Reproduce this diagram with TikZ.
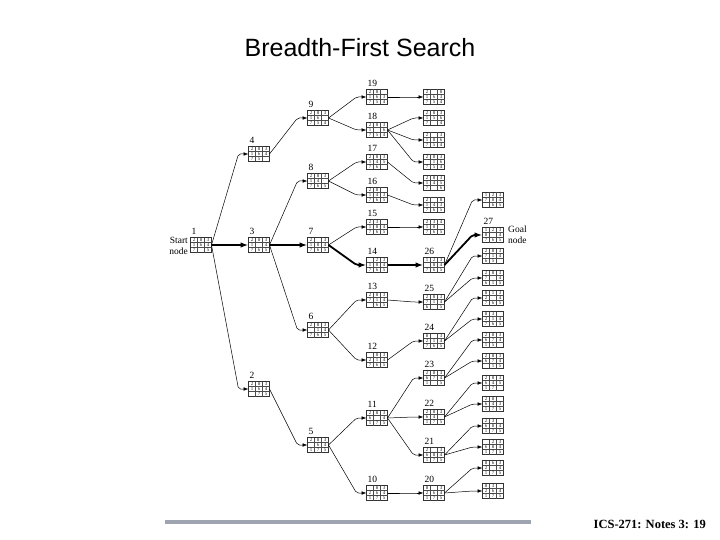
\documentclass[tikz,border=0pt]{standalone}
\usepackage{fontspec}
\setmainfont{Liberation Serif}
\newfontfamily\titlefont{Liberation Sans}
\usetikzlibrary{arrows.meta}
\definecolor{barc}{RGB}{158,164,176}
\tikzset{
  pbox/.style={draw=black!80, line width=0.55pt, minimum width=21pt, minimum height=15pt, inner sep=0pt, outer sep=0pt},
  pgrid/.style={draw=black!70, line width=0.35pt},
  dig/.style={font=\fontsize{4.9}{5}\selectfont, inner sep=0pt, text=black!90},
  lbl/.style={font=\fontsize{9.5}{10}\selectfont, inner sep=0pt, anchor=base west},
  txt/.style={font=\fontsize{9.5}{11}\selectfont, inner sep=0pt},
  arr/.style={-{Latex[length=5pt,width=3.6pt]}, line width=0.5pt, rounded corners=2pt},
  tarr/.style={-{Latex[length=8pt,width=5.5pt]}, line width=1.8pt, rounded corners=2pt},
}
\newcommand\pz[5]{%
  \node[pbox] (#1) at (#2,#3) {};
  \draw[pgrid] ([xshift=-3.5pt]#1.north) -- ([xshift=-3.5pt]#1.south)
               ([xshift=3.5pt]#1.north) -- ([xshift=3.5pt]#1.south)
               ([yshift=2.5pt]#1.west) -- ([yshift=2.5pt]#1.east)
               ([yshift=-2.5pt]#1.west) -- ([yshift=-2.5pt]#1.east);
  \foreach \d [count=\k from 0] in {#4}{%
    \pgfmathsetmacro\dx{(mod(\k,3)-1)*7}%
    \pgfmathsetmacro\dy{(1-floor(\k/3))*5}%
    \ifnum\d>0 \node[dig] at ([xshift=\dx pt,yshift=\dy pt]#1.center) {\d};\fi
  }%
  \if\relax\detokenize{#5}\relax\else
    \node[lbl] (#1-l) at ([xshift=1pt,yshift=3pt]#1.north west) {#5};\fi
}
\newcommand\ar[3][arr]{\draw[#1] (#2.east) -- ([xshift=-10pt]#3.west) -- (#3.west);}
\begin{document}
\begin{tikzpicture}[x=1pt,y=-1pt]
\useasboundingbox[fill=white] (0,0) rectangle (720,540);
\node[font=\titlefont\fontsize{25}{28}\selectfont] (title) at (360,48) {Breadth-First Search};
% column 0
\pz{n1}{201}{245}{2,8,3,1,6,4,7,0,5}{1}
\node[txt, anchor=east, align=right] (start) at (188,246) {Start\\node};
% column 1
\pz{n4}{259}{154}{2,8,3,1,6,4,7,5,0}{4}
\pz{n3}{259}{245}{2,8,3,1,0,4,7,6,5}{3}
\pz{n2}{259}{389}{2,8,3,1,6,4,0,7,5}{2}
% column 2
\pz{n9}{318}{118}{2,8,3,1,6,0,7,5,4}{9}
\pz{n8}{318}{181}{2,8,3,1,4,0,7,6,5}{8}
\pz{n7}{318}{245}{2,0,3,1,8,4,7,6,5}{7}
\pz{n6}{318}{330}{2,8,3,0,1,4,7,6,5}{6}
\pz{n5}{318}{445}{2,8,3,0,6,4,1,7,5}{5}
% column 3
\pz{n19}{377}{97}{2,8,0,1,6,3,7,5,4}{19}
\pz{n18}{377}{130}{2,8,3,1,0,6,7,5,4}{18}
\pz{n17}{377}{162}{2,8,3,1,4,5,7,6,0}{17}
\pz{n16}{377}{195}{2,8,0,1,4,3,7,6,5}{16}
\pz{n15}{377}{227}{2,3,0,1,8,4,7,6,5}{15}
\pz{n14}{377}{265}{0,2,3,1,8,4,7,6,5}{14}
\pz{n13}{377}{300}{2,8,3,7,1,4,0,6,5}{13}
\pz{n12}{377}{360}{0,8,3,2,1,4,7,6,5}{12}
\pz{n11}{377}{418}{2,8,3,6,0,4,1,7,5}{11}
\pz{n10}{377}{493}{0,8,3,2,6,4,1,7,5}{10}
% column 4
\pz{c19}{434}{97}{2,0,8,1,6,3,7,5,4}{}
\pz{c18a}{434}{118}{2,8,3,1,5,6,7,0,4}{}
\pz{c18b}{434}{140}{2,0,3,1,8,6,7,5,4}{}
\pz{c18c}{434}{162}{2,8,3,0,1,6,7,5,4}{}
\pz{c17}{434}{183}{2,8,3,1,4,5,7,0,6}{}
\pz{c16}{434}{205}{2,0,8,1,4,3,7,6,5}{}
\pz{c15}{434}{227}{2,3,4,1,8,0,7,6,5}{}
\pz{n26}{434}{265}{1,2,3,0,8,4,7,6,5}{26}
\pz{n25}{434}{302}{2,8,3,7,1,4,6,0,5}{25}
\pz{n24}{434}{341}{8,0,3,2,1,4,7,6,5}{24}
\pz{n23}{434}{378}{2,8,3,6,7,4,1,0,5}{23}
\pz{n22}{434}{417}{2,8,3,6,4,0,1,7,5}{22}
\pz{n21}{434}{455}{2,0,3,6,8,4,1,7,5}{21}
\pz{n20}{434}{493}{8,0,3,2,6,4,1,7,5}{20}
% column 5
\pz{d26a}{493}{200}{1,2,3,7,8,4,0,6,5}{}
\pz{n27}{493}{235}{1,2,3,8,0,4,7,6,5}{27}
\node[txt, anchor=west, align=left] (goal) at (508,235) {Goal\\node};
\pz{d25a}{493}{256}{2,8,3,7,1,4,6,5,0}{}
\pz{d25b}{493}{278}{2,8,3,7,0,4,6,1,5}{}
\pz{d24a}{493}{298}{8,1,3,2,0,4,7,6,5}{}
\pz{d24b}{493}{319}{8,3,0,2,1,4,7,6,5}{}
\pz{d23a}{493}{340}{2,8,3,6,7,4,1,5,0}{}
\pz{d23b}{493}{361}{2,8,3,6,7,4,0,1,5}{}
\pz{d22a}{493}{383}{2,8,3,6,4,5,1,7,0}{}
\pz{d22b}{493}{404}{2,8,0,6,4,3,1,7,5}{}
\pz{d21a}{493}{426}{2,3,0,6,8,4,1,7,5}{}
\pz{d21b}{493}{447}{0,2,3,6,8,4,1,7,5}{}
\pz{d20a}{493}{468}{8,6,3,2,0,4,1,7,5}{}
\pz{d20b}{493}{491}{8,3,0,2,6,4,1,7,5}{}
% connectors
\ar{n1}{n2} \ar[tarr]{n1}{n3} \ar{n1}{n4}
\ar{n2}{n5}
\ar{n3}{n6} \ar[tarr]{n3}{n7} \ar{n3}{n8}
\ar{n4}{n9}
\ar{n5}{n10} \ar{n5}{n11}
\ar{n6}{n12} \ar{n6}{n13}
\ar[tarr]{n7}{n14} \ar{n7}{n15}
\ar{n8}{n16} \ar{n8}{n17}
\ar{n9}{n18} \ar{n9}{n19}
\ar{n10}{n20}
\ar{n11}{n21} \ar{n11}{n22} \ar{n11}{n23}
\ar{n12}{n24}
\ar{n13}{n25}
\ar[tarr]{n14}{n26}
\ar{n15}{c15} \ar{n16}{c16} \ar{n17}{c17}
\ar{n18}{c18a} \ar{n18}{c18b} \ar{n18}{c18c}
\ar{n19}{c19}
\ar{n20}{d20a} \ar{n20}{d20b}
\ar{n21}{d21a} \ar{n21}{d21b}
\ar{n22}{d22a} \ar{n22}{d22b}
\ar{n23}{d23a} \ar{n23}{d23b}
\ar{n24}{d24a} \ar{n24}{d24b}
\ar{n25}{d25a} \ar{n25}{d25b}
\ar[tarr]{n26}{n27} \ar{n26}{d26a}
% footer
\coordinate (barL) at (165,522);
\coordinate (barR) at (531,522);
\draw[barc, line width=3.5pt] (barL) -- (barR);
\node[anchor=east, font=\bfseries\fontsize{12.5}{14}\selectfont, inner sep=0pt] (footer) at (706,524) {ICS-271: Notes 3: 19};
\end{tikzpicture}
\end{document}
